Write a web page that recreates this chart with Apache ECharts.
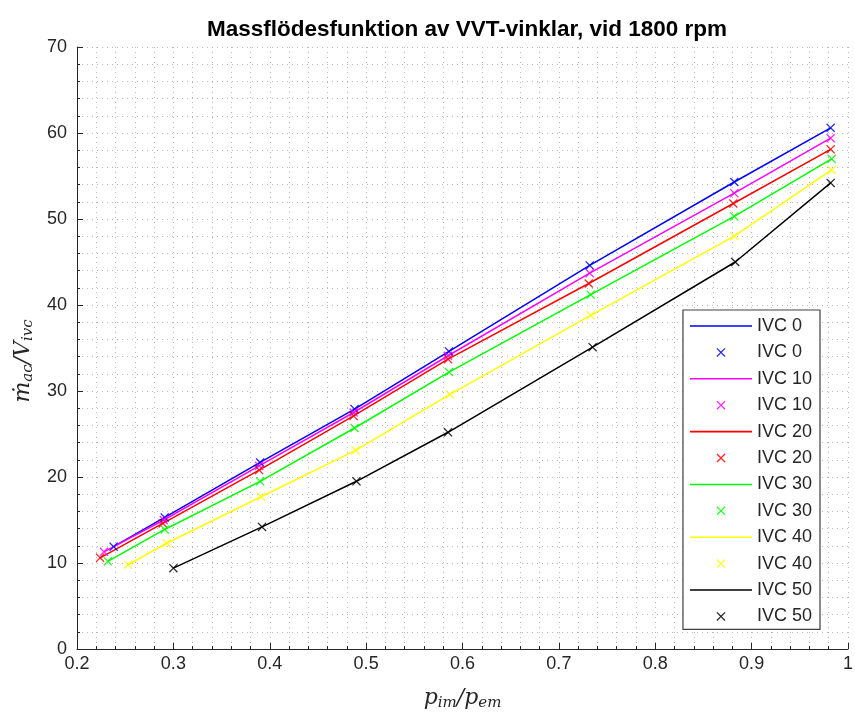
<!DOCTYPE html>
<html>
<head>
<meta charset="utf-8">
<script src="https://cdn.jsdelivr.net/npm/echarts@6/dist/echarts.min.js"></script>
<style>html,body{margin:0;padding:0;background:#fff}#c{width:855px;height:713px}</style>
</head>
<body>
<div id="c"></div>
<script>
const seriesNames = ['IVC 0', 'IVC 10', 'IVC 20', 'IVC 30', 'IVC 40', 'IVC 50'];
const seriesColors = ['#0000ff', '#ff00ff', '#ff0000', '#00ff00', '#ffff00', '#000000'];
const xIVC0  = [0.238, 0.291, 0.390, 0.488, 0.586, 0.732, 0.882, 0.982];
const yIVC0  = [11.9, 15.3, 21.7, 27.9, 34.6, 44.6, 54.3, 60.6];
const xIVC10 = [0.228, 0.290, 0.389, 0.487, 0.585, 0.732, 0.882, 0.982];
const yIVC10 = [11.3, 15.0, 21.3, 27.5, 34.1, 43.7, 53.0, 59.4];
const xIVC20 = [0.224, 0.289, 0.389, 0.487, 0.585, 0.731, 0.881, 0.982];
const yIVC20 = [10.6, 14.6, 20.8, 27.1, 33.7, 42.5, 51.8, 58.1];
const xIVC30 = [0.232, 0.291, 0.390, 0.488, 0.586, 0.733, 0.882, 0.983];
const yIVC30 = [10.2, 13.9, 19.5, 25.7, 32.2, 41.2, 50.3, 57.0];
const xIVC40 = [0.253, 0.293, 0.391, 0.489, 0.587, 0.733, 0.882, 0.983];
const yIVC40 = [9.8, 12.3, 17.7, 23.1, 29.6, 38.8, 48.0, 55.7];
const xIVC50 = [0.300, 0.392, 0.490, 0.585, 0.735, 0.883, 0.982];
const yIVC50 = [9.4, 14.2, 19.5, 25.2, 35.1, 45.0, 54.2];
const xTicks = [0.2, 0.3, 0.4, 0.5, 0.6, 0.7, 0.8, 0.9, 1];
const yTicks = [0, 10, 20, 30, 40, 50, 60, 70];

const xs = [xIVC0, xIVC10, xIVC20, xIVC30, xIVC40, xIVC50];
const ys = [yIVC0, yIVC10, yIVC20, yIVC30, yIVC40, yIVC50];
const X_PATH = 'path://M0,1L1,0L5,4L9,0L10,1L6,5L10,9L9,10L5,6L1,10L0,9L4,5Z';
const LINE_PATH = 'path://M0,0L40,0L40,1L0,1Z';

const series = [];
const legendData = [];
seriesNames.forEach((n, i) => {
  const data = xs[i].map((x, k) => [x, ys[i][k]]);
  series.push({
    name: n, type: 'line', data: data, symbol: 'none',
    lineStyle: { color: seriesColors[i], width: 1.5 }, itemStyle: { color: seriesColors[i] },
    z: 2
  });
  series.push({
    name: n + '#m', type: 'scatter', data: data, symbol: X_PATH, symbolSize: 9,
    itemStyle: { color: seriesColors[i], opacity: 0.85 }, z: 3
  });
  legendData.push({ name: n, icon: LINE_PATH });
  legendData.push({ name: n + '#m', icon: X_PATH });
});

const chart = echarts.init(document.getElementById('c'));
const axisColor = '#262626';
const gridDots = { color: '#b8b8b8', width: 1, type: [1, 4] };
const mathRich = {
  i: { fontFamily: 'DejaVu Serif', fontStyle: 'italic', fontSize: 22, color: '#262626' },
  s: { fontFamily: 'DejaVu Serif', fontStyle: 'italic', fontSize: 15, color: '#262626', padding: [10, 0, 0, 0] }
};
chart.setOption({
  animation: false,
  backgroundColor: '#fff',
  title: {
    text: 'Massflödesfunktion av VVT-vinklar, vid 1800 rpm',
    left: 462, top: 13, textAlign: 'center',
    textStyle: { fontFamily: 'Liberation Sans', fontWeight: 'bold', fontSize: 22.5, color: '#000' }
  },
  grid: { left: 77, right: 7, top: 47, bottom: 64, containLabel: false, outerBoundsMode: 'none' },
  legend: {
    data: legendData, orient: 'vertical', right: 35, top: 310,
    itemWidth: 62, itemHeight: 9, itemGap: 8.4,
    backgroundColor: '#fff', borderColor: '#404040', borderWidth: 1.2, borderRadius: 0,
    padding: [7, 8, 4, 7],
    formatter: (name) => name.replace('#m', ''),
    textStyle: { fontFamily: 'Liberation Sans', fontSize: 18, color: '#262626' },
    selectedMode: false
  },
  xAxis: {
    type: 'value', min: 0.2, max: 1, interval: 0.1,
    name: '{i|p}{s|im}{i|/p}{s|em}', nameLocation: 'middle', nameGap: 37,
    nameTextStyle: { rich: mathRich },
    axisLine: { show: true, lineStyle: { color: axisColor, width: 1 } },
    axisTick: { show: true, inside: true, length: 6, lineStyle: { color: axisColor } },
    minorTick: { show: true, splitNumber: 5, length: 3, lineStyle: { color: axisColor } },
    axisLabel: {
      fontFamily: 'Liberation Sans', fontSize: 18, color: axisColor, margin: 6,
      formatter: (v) => { const r = Math.round(v * 10) / 10; return xTicks.indexOf(r) >= 0 ? String(r) : ''; }
    },
    splitLine: { show: true, lineStyle: gridDots },
    minorSplitLine: { show: true, lineStyle: gridDots }
  },
  yAxis: {
    type: 'value', min: 0, max: 70, interval: 10,
    name: '{i|ṁ}{s|ac}{i|/V}{s|ivc}', nameLocation: 'middle', nameGap: 26, nameRotate: 90,
    nameTextStyle: { rich: mathRich, padding: [0, 26, 0, 0] },
    axisLine: { show: true, lineStyle: { color: axisColor, width: 1 } },
    axisTick: { show: true, inside: true, length: 6, lineStyle: { color: axisColor } },
    minorTick: { show: true, splitNumber: 5, length: 3, lineStyle: { color: axisColor } },
    axisLabel: {
      fontFamily: 'Liberation Sans', fontSize: 18, color: axisColor, margin: 10,
      formatter: (v) => yTicks.indexOf(v) >= 0 ? String(v) : ''
    },
    splitLine: { show: true, lineStyle: gridDots },
    minorSplitLine: { show: true, lineStyle: gridDots }
  },
  series: series
});
</script>
</body>
</html>
